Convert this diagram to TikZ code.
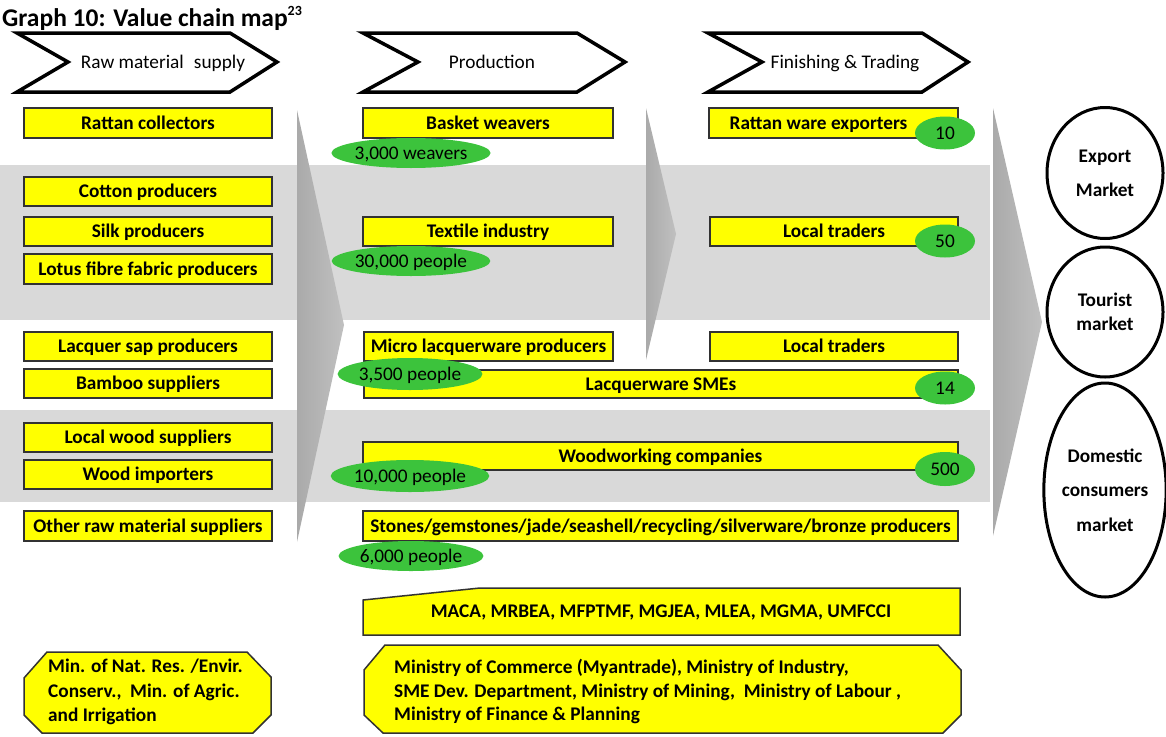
\documentclass[tikz,border=0pt]{standalone}
\usepackage{fontspec}
\setmainfont{Carlito}
\usetikzlibrary{shapes.geometric}
\definecolor{boxyellow}{RGB}{255,255,0}
\definecolor{boxline}{RGB}{50,50,50}
\definecolor{pillgreen}{RGB}{60,195,60}
\definecolor{bandgray}{RGB}{217,217,217}
\definecolor{arrowdark}{RGB}{170,170,170}
\definecolor{arrowlight}{RGB}{192,192,192}
\newcommand{\vcboxfont}{\fontsize{19.3}{22}\selectfont\bfseries}
\newcommand{\vcpillfont}{\fontsize{19.3}{22}\selectfont}
\tikzset{
  ybox/.style={draw=boxline, fill=boxyellow, line width=1.5pt, inner sep=0pt, font=\vcboxfont, text height=15pt, text depth=3pt},
  pill/.style={ellipse, fill=pillgreen, inner sep=0pt, font=\vcpillfont, text height=15pt, text depth=3pt},
  band/.style={fill=bandgray, draw=none},
  flowarrow/.style={left color=arrowdark, right color=arrowlight, draw=none},
  chevron/.style={draw=black, line width=3.5pt, fill=white, line join=miter},
  chevtext/.style={font=\vcpillfont, inner sep=0pt, text height=15pt, text depth=3pt},
  market/.style={ellipse, draw=black, line width=3pt, fill=white, align=center, inner sep=0pt},
  polybox/.style={draw=boxline, fill=boxyellow, line width=1.5pt, line join=miter},
  polytext/.style={font=\vcboxfont, inner sep=0pt},
}
\begin{document}
\begin{tikzpicture}[x=1pt,y=-1pt]
\useasboundingbox (0,0) rectangle (1166,736);

% title
\node[anchor=base west, inner sep=0pt, font=\fontsize{25.5}{28}\selectfont\bfseries] (title) at (2,26)
  {Graph 10: Value chain map\raisebox{10pt}{\fontsize{14}{14}\selectfont 23}};

% bands
\fill[band] (0,165) rectangle (990,320);
\fill[band] (0,410) rectangle (990,502);

% flow arrows
\path[flowarrow] (297,110) -- (344,325) -- (297,542) -- cycle;
\path[flowarrow] (646,108) -- (676,234) -- (646,360) -- cycle;
\path[flowarrow] (993,108) -- (1042,322) -- (993,536) -- cycle;

% header chevrons
\draw[chevron] (17,33) -- (230,33) -- (277,62) -- (230,92) -- (17,92) -- (68,62) -- cycle;
\node[chevtext] (h1) at (163,62) {Raw material\hspace{0.3em} supply};
\draw[chevron] (363,33) -- (577,33) -- (625,62) -- (577,92) -- (363,92) -- (418,62) -- cycle;
\node[chevtext] (h2) at (492,62) {Production};
\draw[chevron] (708,33) -- (922,33) -- (968,62) -- (922,92) -- (708,92) -- (762,62) -- cycle;
\node[chevtext] (h3) at (845,62) {Finishing \& Trading};

% raw material column
\node[ybox, minimum width=248pt, minimum height=30pt] (rc) at (148,123) {Rattan collectors};
\node[ybox, minimum width=248pt, minimum height=29pt] (cp) at (148,191.5) {Cotton producers};
\node[ybox, minimum width=248pt, minimum height=29pt] (sp) at (148,231.5) {Silk producers};
\node[ybox, minimum width=248pt, minimum height=30pt] (lf) at (148,269) {Lotus fibre fabric producers};
\node[ybox, minimum width=248pt, minimum height=29pt] (ls) at (148,346.5) {Lacquer sap producers};
\node[ybox, minimum width=248pt, minimum height=29pt] (bs) at (148,383.5) {Bamboo suppliers};
\node[ybox, minimum width=248pt, minimum height=29pt] (lw) at (148,437.5) {Local wood suppliers};
\node[ybox, minimum width=248pt, minimum height=29pt] (wi) at (148,474.5) {Wood importers};
\node[ybox, minimum width=248pt, minimum height=30pt] (orm) at (148,526) {Other raw material suppliers};

% production column
\node[ybox, minimum width=250pt, minimum height=30pt] (bw) at (488,123) {Basket weavers};
\node[ybox, minimum width=250pt, minimum height=29pt] (ti) at (488,231.5) {Textile industry};
\node[ybox, minimum width=249pt, minimum height=29pt] (ml) at (488.5,346.5) {Micro lacquerware producers};
\node[ybox, minimum width=594pt, minimum height=28pt] (sme) at (661,384) {Lacquerware SMEs};
\node[ybox, minimum width=595pt, minimum height=28pt] (wc) at (660.5,456) {Woodworking companies};
\node[ybox, minimum width=595pt, minimum height=30pt] (st) at (660.5,526) {Stones/gemstones/jade/seashell/recycling/silverware/bronze producers};

% finishing column
\node[ybox, minimum width=249pt, minimum height=30pt] (rwe) at (833.5,123) {Rattan ware exporters\kern30pt\relax};
\node[ybox, minimum width=248pt, minimum height=29pt] (lt1) at (834,231.5) {Local traders};
\node[ybox, minimum width=248pt, minimum height=29pt] (lt2) at (834,346.5) {Local traders};

% green pills
\node[pill, minimum width=130pt, minimum height=30pt] (p1) at (411,153) {3,000 weavers};
\node[pill, minimum width=130pt, minimum height=30pt] (p2) at (411,261) {30,000 people};
\node[pill, minimum width=130pt, minimum height=32pt] (p3) at (410,374) {3,500 people};
\node[pill, minimum width=130pt, minimum height=32pt] (p4) at (410,476) {10,000 people};
\node[pill, minimum width=130pt, minimum height=30pt] (p5) at (411,556) {6,000 people};
\node[pill, minimum width=60pt, minimum height=33pt] (n1) at (945,133) {10};
\node[pill, minimum width=60pt, minimum height=33pt] (n2) at (945,241) {50};
\node[pill, minimum width=60pt, minimum height=33pt] (n3) at (945,388) {14};
\node[pill, minimum width=60pt, minimum height=34pt] (n4) at (945,469) {500};

% markets
\node[market, minimum width=116pt, minimum height=131pt, font=\fontsize{19.3}{34}\selectfont\bfseries] (m1) at (1105,173) {Export\\Market};
\node[market, minimum width=116pt, minimum height=130pt, font=\fontsize{19.3}{24}\selectfont\bfseries] (m2) at (1105,312) {Tourist\\market};
\node[market, minimum width=116pt, minimum height=214pt, font=\fontsize{19.3}{34.5}\selectfont\bfseries] (m3) at (1105,490) {Domestic\\consumers\\market};

% associations
\draw[polybox] (363,600) -- (480,588) -- (960,588) -- (960,635) -- (363,635) -- cycle;
\node[polytext] (assoc) at (661,612) {MACA, MRBEA, MFPTMF, MGJEA, MLEA, MGMA, UMFCCI};

% ministries
\draw[polybox] (385,645) -- (938,645) -- (961,670) -- (961,715) -- (943,733) -- (383,733) -- (364,715) -- (364,670) -- cycle;
\node[polytext, anchor=north west, align=left, font=\fontsize{19.3}{23.5}\selectfont\bfseries] (mins) at (394,659)
  {Ministry of Commerce (Myantrade), Ministry of Industry,\\
   SME Dev. Department, Ministry of Mining,\ \ Ministry of Labour ,\\
   Ministry of Finance \& Planning};

\draw[polybox] (47,652) -- (247,652) -- (271,677) -- (271,715) -- (253,733) -- (42,733) -- (24,715) -- (24,678) -- cycle;
\node[polytext, anchor=north west, align=left, font=\fontsize{19.3}{24.5}\selectfont\bfseries] (natres) at (48,659)
  {Min. of Nat. Res. /Envir.\\
   Conserv.,\ \ Min. of Agric.\\
   and Irrigation};
\end{tikzpicture}
\end{document}
